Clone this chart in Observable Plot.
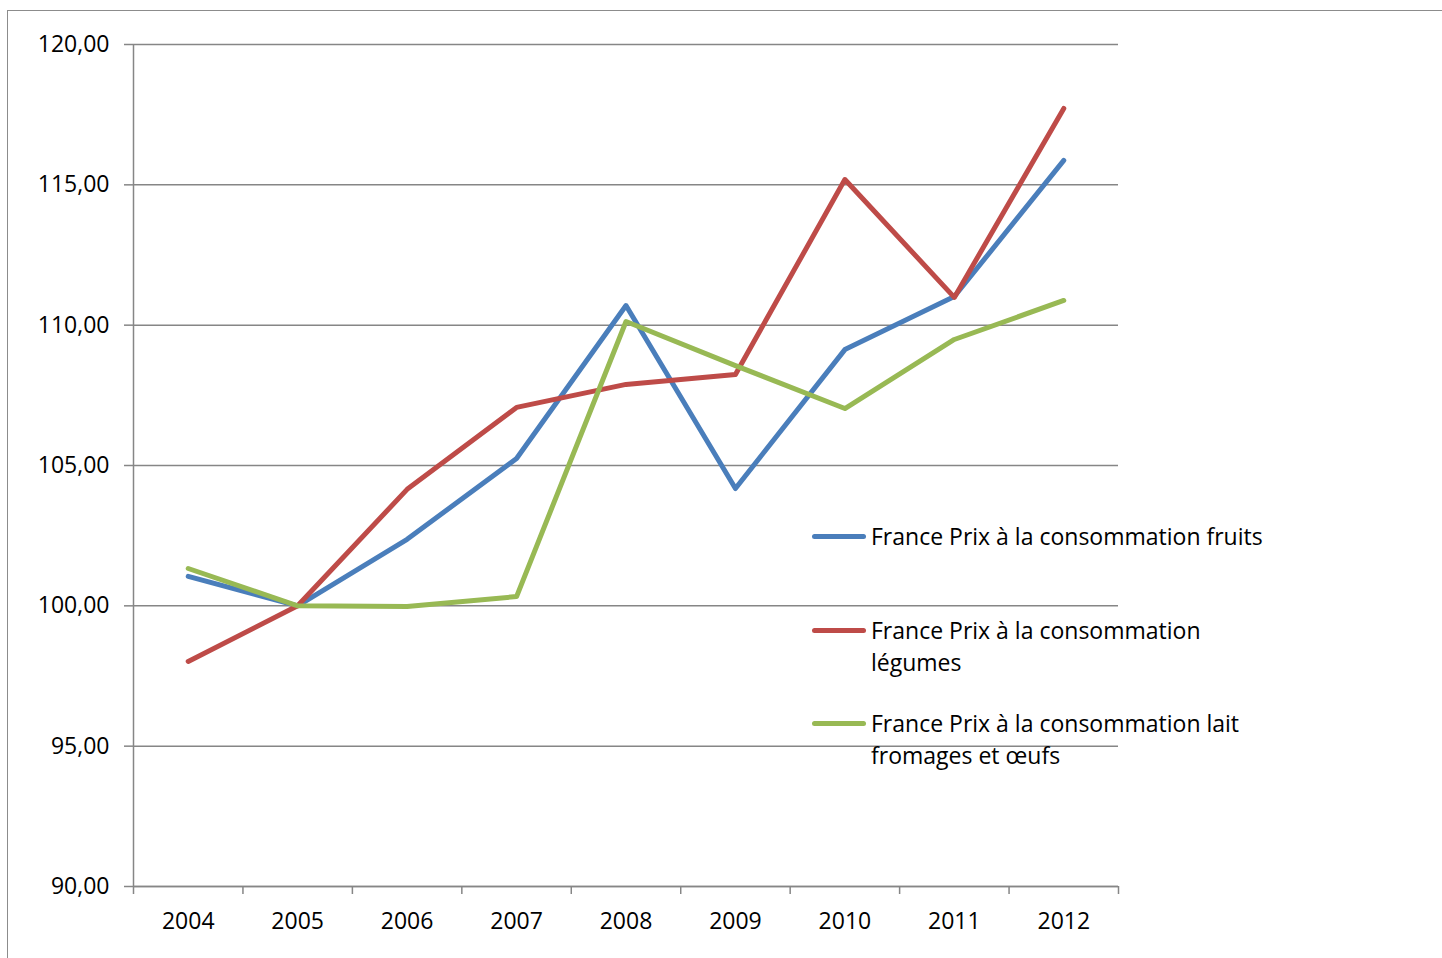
<!DOCTYPE html>
<html>
<head>
<meta charset="utf-8">
<script src="https://cdn.jsdelivr.net/npm/d3@7"></script>
<script src="https://cdn.jsdelivr.net/npm/@observablehq/plot@0.6"></script>
<style>
  html, body { margin: 0; padding: 0; background: #fff; }
  #wrap { position: relative; width: 1442px; height: 958px; overflow: hidden; font-family: "Open Sans", sans-serif; }
  #border { position: absolute; left: 7px; top: 10px; width: 2000px; height: 2000px; border-left: 1.5px solid #8c8c8c; border-top: 1.5px solid #8c8c8c; }
  #legend { position: absolute; left: 812px; top: 0; font-size: 23px; color: #000; }
  .item { position: absolute; left: 0; display: flex; align-items: flex-start; white-space: nowrap; }
  .sw { width: 54px; height: 5px; border-radius: 3px; margin-right: 5px; margin-top: 14px; }
  .txt { line-height: 32px; }
</style>
</head>
<body>
<div id="wrap">
  <div id="border"></div>
  <div id="chart"></div>
  <div id="legend"></div>
</div>
<script>
const years = ["2004","2005","2006","2007","2008","2009","2010","2011","2012"];
const seriesNames = [
  "France Prix à la consommation fruits",
  "France Prix à la consommation légumes",
  "France Prix à la consommation lait fromages et œufs"
];
const legendLines = [
  ["France Prix à la consommation fruits"],
  ["France Prix à la consommation", "légumes"],
  ["France Prix à la consommation lait", "fromages et œufs"]
];
const colors = ["#4a7ebb", "#be4b48", "#98b954"];
const fruits  = [101.05, 100.00, 102.37, 105.25, 110.70, 104.18, 109.13, 111.02, 115.87];
const legumes = [98.02, 100.00, 104.15, 107.07, 107.89, 108.24, 115.19, 110.99, 117.72];
const lait    = [101.33, 100.00, 99.98, 100.33, 110.13, 108.56, 107.03, 109.49, 110.88];
const yTicks = [90, 95, 100, 105, 110, 115, 120];

const allSeries = [fruits, legumes, lait];
const data = [];
allSeries.forEach((vals, s) => vals.forEach((v, i) => data.push({year: years[i], value: v, series: seriesNames[s]})));

const W = 1442, H = 958;
const mL = 133, mR = W - 1118, mT = 44, mB = H - 886;
const step = (W - mL - mR) / years.length;
const fmt = d => d3.format(".2f")(d).replace(".", ",");
const gridColor = "#868686";

const chart = Plot.plot({
  width: W, height: H,
  marginLeft: mL, marginRight: mR, marginTop: mT, marginBottom: mB,
  style: {fontFamily: "Open Sans, sans-serif", fontSize: "23px", color: "#000", background: "transparent"},
  x: {type: "point", domain: years, padding: 0.5, round: false},
  y: {domain: [90, 120]},
  color: {domain: seriesNames, range: colors},
  marks: [
    Plot.gridY(yTicks, {stroke: gridColor, strokeOpacity: 1, strokeWidth: 1.5}),
    Plot.axisY(yTicks, {tickSize: 9, tickPadding: 15, tickFormat: fmt, stroke: gridColor, strokeWidth: 1.5, fill: "#000", fontSize: 23, label: null}),
    Plot.ruleX([years[0]], {y1: 90, y2: 120, dx: -step/2, stroke: gridColor, strokeWidth: 1.5}),
    Plot.ruleY([90], {stroke: gridColor, strokeWidth: 1.5}),
    Plot.axisX(years, {tickSize: 8, dx: -step/2, tickFormat: () => "", stroke: gridColor, strokeWidth: 1.5, label: null}),
    Plot.axisX([years[years.length-1]], {tickSize: 8, dx: step/2, tickFormat: () => "", stroke: gridColor, strokeWidth: 1.5, label: null}),
    Plot.axisX(years, {tickSize: 0, tickPadding: 26, fill: "#000", fontSize: 23, label: null}),
    Plot.line(data, {x: "year", y: "value", z: "series", stroke: "series", strokeWidth: 5, strokeLinecap: "round", strokeLinejoin: "round"})
  ]
});
document.getElementById("chart").appendChild(chart);

const legend = document.getElementById("legend");
const tops = [520, 614, 707];
legendLines.forEach((lines, i) => {
  const item = document.createElement("div");
  item.className = "item";
  item.style.top = tops[i] + "px";
  const sw = document.createElement("div");
  sw.className = "sw";
  sw.style.background = colors[i];
  const txt = document.createElement("div");
  txt.className = "txt";
  txt.innerHTML = lines.join("<br>");
  item.appendChild(sw); item.appendChild(txt);
  legend.appendChild(item);
});
</script>
</body>
</html>
